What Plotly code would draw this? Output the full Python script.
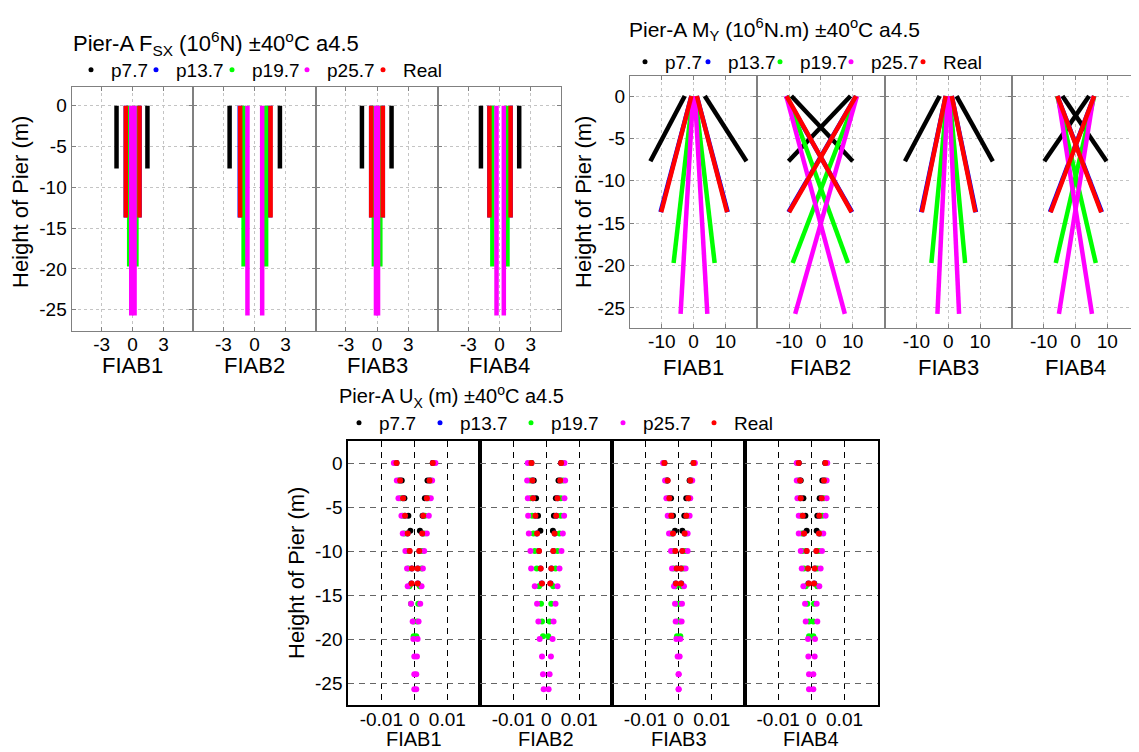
import plotly.graph_objects as go

# ---------------- data ----------------
SERIES = ["p7.7", "p13.7", "p19.7", "p25.7", "Real"]
COLORS = ["#000000", "#0000ff", "#00ff00", "#ff00ff", "#ff0000"]
DEPTH = [7.7, 13.7, 19.7, 25.7, 13.7]
PANELS = ["FIAB1", "FIAB2", "FIAB3", "FIAB4"]

# Fsx (10^6 N): per panel (negative case, positive case), constant along height
FSX_P77 = [(-1.55, 1.45), (-2.40, 2.45), (-1.45, 1.40), (-1.80, 1.88)]
FSX_P137 = [(-0.65, 0.68), (-1.42, 1.50), (-0.56, 0.56), (-0.98, 1.05)]
FSX_P197 = [(-0.32, 0.38), (-1.05, 1.12), (-0.30, 0.32), (-0.70, 0.75)]
FSX_P257 = [(-0.12, 0.20), (-0.68, 0.74), (-0.10, 0.10), (-0.30, 0.40)]
FSX_REAL = [(-0.65, 0.68), (-1.38, 1.55), (-0.56, 0.56), (-0.98, 1.05)]

# My (10^6 N.m): per panel two cases, each (value at top, value at pier bottom)
MY_P77 = [((-2.8, -13.6), (3.5, 16.6)), ((-9.3, 10.0), (9.3, -10.2)),
          ((-2.7, -13.6), (2.6, 14.0)), ((-4.1, 9.8), (4.3, -9.8))]
MY_P137 = [((-0.7, -10.4), (1.0, 10.7)), ((-11.0, 9.8), (11.0, -10.2)),
           ((-0.8, -8.5), (1.1, 8.7)), ((-5.7, 8.3), (5.9, -8.0))]
MY_P197 = [((-0.3, -6.3), (0.5, 6.6)), ((-10.6, 8.5), (11.2, -8.9)),
           ((-0.3, -5.3), (0.4, 5.3)), ((-5.7, 6.4), (5.9, -6.2))]
MY_P257 = [((-0.2, -4.1), (0.4, 4.3)), ((-10.9, 7.5), (11.3, -8.1)),
           ((-0.2, -3.4), (0.3, 3.4)), ((-5.5, 5.2), (5.7, -5.2))]
MY_REAL = [((-0.7, -10.2), (1.0, 10.5)), ((-10.8, 9.6), (11.0, -10.0)),
           ((-0.8, -8.3), (1.1, 8.5)), ((-5.7, 8.1), (5.9, -7.8))]

# Ux (m): node heights of each pier model
UX_H_P77 = [0, -2, -4, -6, -7.7]
UX_H_P137 = [0, -2, -4, -6, -8, -10, -12, -13.7]
UX_H_P197 = [0, -2, -4, -6, -8, -10, -12, -14, -16, -18, -19.7]
UX_H_P257 = [0, -2, -4, -6, -8, -10, -12, -14, -16, -18, -20, -22, -24, -25.7]
UX_H_REAL = [0, -2, -4, -6, -8, -10, -12, -13.7]

UX_P77_NEG = [[-0.0054, -0.0038, -0.0030, -0.0018, -0.0012],
              [-0.0045, -0.0038, -0.0031, -0.0025, -0.0018],
              [-0.0043, -0.0035, -0.0023, -0.0017, -0.0011],
              [-0.0038, -0.0032, -0.0024, -0.0018, -0.0014]]
UX_P77_POS = [[0.0056, 0.0040, 0.0032, 0.0025, 0.0017],
              [0.0045, 0.0037, 0.0029, 0.0023, 0.0020],
              [0.0045, 0.0033, 0.0023, 0.0017, 0.0011],
              [0.0042, 0.0033, 0.0025, 0.0018, 0.0016]]

UX_P137_NEG = [[-0.0055, -0.0044, -0.0035, -0.0029, -0.0021, -0.0015, -0.0008, -0.0009],
               [-0.0046, -0.0043, -0.0041, -0.0034, -0.0029, -0.0023, -0.0018, -0.0014],
               [-0.0044, -0.0034, -0.0029, -0.0023, -0.0018, -0.0011, -0.0007, -0.0009],
               [-0.0039, -0.0035, -0.0033, -0.0027, -0.0023, -0.0015, -0.0011, -0.0009]]
UX_P137_POS = [[0.0057, 0.0047, 0.0039, 0.0028, 0.0025, 0.0016, 0.0011, 0.0011],
               [0.0046, 0.0043, 0.0035, 0.0031, 0.0026, 0.0022, 0.0016, 0.0013],
               [0.0046, 0.0036, 0.0030, 0.0024, 0.0019, 0.0012, 0.0008, 0.0008],
               [0.0043, 0.0039, 0.0032, 0.0025, 0.0024, 0.0016, 0.0011, 0.0009]]

UX_P197_NEG = [[-0.0058, -0.0048, -0.0042, -0.0035, -0.0030, -0.0023, -0.0018, -0.0015, -0.0010, -0.0002, -0.0002],
               [-0.0050, -0.0050, -0.0048, -0.0043, -0.0039, -0.0035, -0.0029, -0.0022, -0.0016, -0.0013, -0.0010],
               [-0.0045, -0.0037, -0.0032, -0.0027, -0.0024, -0.0019, -0.0015, -0.0009, -0.0006, -0.0003, -0.0005],
               [-0.0042, -0.0040, -0.0036, -0.0032, -0.0029, -0.0027, -0.0022, -0.0017, -0.0012, -0.0007, -0.0007]]
UX_P197_POS = [[0.0060, 0.0050, 0.0044, 0.0032, 0.0030, 0.0025, 0.0022, 0.0017, 0.0012, 0.0008, 0.0006],
               [0.0050, 0.0050, 0.0044, 0.0044, 0.0040, 0.0034, 0.0028, 0.0021, 0.0015, 0.0010, 0.0006],
               [0.0047, 0.0038, 0.0032, 0.0027, 0.0022, 0.0020, 0.0015, 0.0010, 0.0003, 0.0003, 0.0005],
               [0.0045, 0.0042, 0.0038, 0.0033, 0.0028, 0.0023, 0.0018, 0.0018, 0.0008, 0.0006, 0.0006]]

UX_P257_NEG = [[-0.0062, -0.0053, -0.0048, -0.0039, -0.0035, -0.0027, -0.0022, -0.0020, -0.0010, -0.0005, -0.0003, 0.0000, 0.0000, 0.0000],
               [-0.0056, -0.0058, -0.0056, -0.0055, -0.0053, -0.0048, -0.0046, -0.0035, -0.0028, -0.0024, -0.0020, -0.0013, -0.0010, -0.0008],
               [-0.0047, -0.0041, -0.0037, -0.0033, -0.0029, -0.0023, -0.0020, -0.0014, -0.0011, -0.0009, -0.0007, -0.0003, 0.0000, 0.0000],
               [-0.0044, -0.0044, -0.0042, -0.0038, -0.0038, -0.0032, -0.0029, -0.0024, -0.0019, -0.0017, -0.0010, -0.0009, -0.0007, -0.0007]]
UX_P257_POS = [[0.0064, 0.0054, 0.0050, 0.0044, 0.0038, 0.0030, 0.0026, 0.0022, 0.0018, 0.0013, 0.0010, 0.0008, 0.0006, 0.0006],
               [0.0055, 0.0057, 0.0055, 0.0054, 0.0050, 0.0046, 0.0040, 0.0034, 0.0028, 0.0022, 0.0019, 0.0014, 0.0010, 0.0007],
               [0.0049, 0.0041, 0.0035, 0.0033, 0.0027, 0.0027, 0.0021, 0.0016, 0.0010, 0.0009, 0.0005, 0.0003, 0.0000, 0.0000],
               [0.0048, 0.0046, 0.0046, 0.0043, 0.0036, 0.0032, 0.0028, 0.0024, 0.0016, 0.0018, 0.0011, 0.0010, 0.0006, 0.0006]]

UX_REAL_NEG = [[-0.0054, -0.0043, -0.0034, -0.0028, -0.0020, -0.0014, -0.0007, -0.0008],
               [-0.0045, -0.0042, -0.0040, -0.0033, -0.0028, -0.0022, -0.0017, -0.0013],
               [-0.0043, -0.0033, -0.0028, -0.0022, -0.0017, -0.0010, -0.0006, -0.0008],
               [-0.0038, -0.0034, -0.0032, -0.0026, -0.0022, -0.0014, -0.0010, -0.0008]]
UX_REAL_POS = [[0.0056, 0.0046, 0.0038, 0.0027, 0.0024, 0.0015, 0.0010, 0.0010],
               [0.0045, 0.0042, 0.0034, 0.0030, 0.0025, 0.0021, 0.0015, 0.0012],
               [0.0045, 0.0035, 0.0029, 0.0023, 0.0018, 0.0011, 0.0007, 0.0007],
               [0.0042, 0.0038, 0.0031, 0.0024, 0.0023, 0.0015, 0.0010, 0.0008]]

Y_TICKS = [0, -5, -10, -15, -20, -25]
Y_TICKTEXT = ["0", "-5", "-10", "-15", "-20", "-25"]

TITLES = ["Pier-A F<sub>SX</sub> (10<sup>6</sup>N) ±40<sup>o</sup>C a4.5",
          "Pier-A M<sub>Y</sub> (10<sup>6</sup>N.m) ±40<sup>o</sup>C a4.5",
          "Pier-A U<sub>X</sub> (m) ±40<sup>o</sup>C a4.5"]
YLABEL = "Height of Pier (m)"

# ---------------- layout config ----------------
# the page body has an 8 px margin, so the figure is drawn 8 px smaller and
# reference pixel positions are shifted by that offset
OFF = 8
W, H = 1139 - OFF, 752 - OFF
FONT = "Liberation Sans, Arial, sans-serif"


def fx(p):
    return min(max((p - OFF) / W, 0.0), 1.0)


def fy(p):
    return min(max(1 - (p - OFF) / H, 0.0), 1.0)


GROUPS = [
    dict(edges=[71.7, 193.3, 315.7, 438.3, 561.0], top=87, bottom=331,
         xrange=[-5.9, 5.9], yrange=[-27.6, 2.3], xt=[-3, 0, 3], xtt=["-3", "0", "3"],
         style="matlab", title=(71, 44), legend=(71, 70), ylab=(20, 202),
         flab=(365, "middle"), lw=[20, 31, 30, 31, None], tfs=22, fls=22, xstand=-4),
    dict(edges=[630.0, 757.3, 884.6, 1011.9, 1139.0], top=75.7, bottom=328.3,
         xrange=[-20, 20], yrange=[-27.4, 2.4], xt=[-10, 0, 10], xtt=["-10", "0", "10"],
         style="matlab", title=(627, 30), legend=(625, 62), ylab=(583, 202),
         flab=(367, "middle"), lw=[18, 27, 26, 27, None], tfs=21, fls=22, xstand=-4),
    dict(edges=[348.3, 480.3, 612.3, 745.0, 877.7], top=441, bottom=705,
         xrange=[-0.02, 0.02], yrange=[-27.5, 2.5], xt=[-0.01, 0, 0.01], xtt=["-0.01", "0", "0.01"],
         style="box", title=(337, 396), legend=(339, 423), ylab=(296, 573),
         flab=(752, "bottom"), lw=[36, 46, 47, 46, None], tfs=20, fls=20, xstand=-4),
]
LEGEND_KEYS = ["legend", "legend2", "legend3"]

fig = go.Figure()
layout = dict(width=W, height=H, margin=dict(l=0, r=0, t=0, b=0),
              paper_bgcolor="white", plot_bgcolor="white",
              font=dict(family=FONT, color="black", size=19),
              showlegend=True)
annotations = []

for g, G in enumerate(GROUPS):
    for p in range(4):
        k = g * 4 + p + 1
        xk = "xaxis" if k == 1 else f"xaxis{k}"
        yk = "yaxis" if k == 1 else f"yaxis{k}"
        xid = "x" if k == 1 else f"x{k}"
        yid = "y" if k == 1 else f"y{k}"
        x0, x1 = G["edges"][p], G["edges"][p + 1]
        if G["style"] == "matlab":
            common = dict(showline=True, linecolor="#808080", linewidth=1.3, mirror="ticks",
                          ticks="inside", ticklen=4, tickcolor="#808080", showgrid=True,
                          gridcolor="#c4c4c4", griddash="dot", gridwidth=1, zeroline=False,
                          tickfont=dict(size=19, color="black", family=FONT), automargin=False)
            xgrid = ygrid = "#c4c4c4"
        else:
            common = dict(showline=True, linecolor="black", linewidth=2, mirror=True,
                          ticks="", showgrid=True, griddash="6px,5px", gridwidth=1,
                          zeroline=False, tickfont=dict(size=19, color="black", family=FONT),
                          automargin=False)
            xgrid, ygrid = "#000000", "#666666"
        layout[xk] = dict(common, domain=[fx(x0), fx(x1)], range=G["xrange"],
                          tickvals=G["xt"], ticktext=G["xtt"], anchor=yid, gridcolor=xgrid,
                          ticklabelstandoff=G["xstand"])
        layout[yk] = dict(common, domain=[fy(G["bottom"]), fy(G["top"])], range=G["yrange"],
                          tickvals=Y_TICKS, ticktext=Y_TICKTEXT, anchor=xid, gridcolor=ygrid,
                          showticklabels=(p == 0))
        fpy, fanchor = G["flab"]
        annotations.append(dict(text=PANELS[p], x=fx((x0 + x1) / 2), y=fy(fpy),
                                xref="paper", yref="paper", showarrow=False,
                                xanchor="center", yanchor=fanchor,
                                font=dict(size=G["fls"], family=FONT, color="black")))

        if g == 0:
            data = [FSX_P77, FSX_P137, FSX_P197, FSX_P257, FSX_REAL]
            for s in range(5):
                neg, pos = data[s][p]
                d = DEPTH[s]
                fig.add_trace(go.Scatter(x=[neg, neg, None, pos, pos], y=[0, -d, None, 0, -d],
                                         mode="lines", line=dict(color=COLORS[s], width=4.5),
                                         showlegend=False, xaxis=xid, yaxis=yid,
                                         hoverinfo="skip"))
        elif g == 1:
            data = [MY_P77, MY_P137, MY_P197, MY_P257, MY_REAL]
            for s in range(5):
                (a0, a1), (b0, b1) = data[s][p]
                d = DEPTH[s]
                fig.add_trace(go.Scatter(x=[a0, a1, None, b0, b1], y=[0, -d, None, 0, -d],
                                         mode="lines", line=dict(color=COLORS[s], width=4.5),
                                         showlegend=False, xaxis=xid, yaxis=yid,
                                         hoverinfo="skip"))
        else:
            negs = [UX_P77_NEG, UX_P137_NEG, UX_P197_NEG, UX_P257_NEG, UX_REAL_NEG]
            poss = [UX_P77_POS, UX_P137_POS, UX_P197_POS, UX_P257_POS, UX_REAL_POS]
            hs = [UX_H_P77, UX_H_P137, UX_H_P197, UX_H_P257, UX_H_REAL]
            for s in range(5):
                fig.add_trace(go.Scatter(x=negs[s][p] + poss[s][p], y=hs[s] + hs[s],
                                         mode="markers",
                                         marker=dict(color=COLORS[s], size=6, line=dict(width=0)),
                                         showlegend=False, xaxis=xid, yaxis=yid,
                                         hoverinfo="skip"))

    # legend entries (dots)
    first_x = "x" if g == 0 else f"x{g * 4 + 1}"
    first_y = "y" if g == 0 else f"y{g * 4 + 1}"
    for s in range(5):
        tr = dict(x=[None], y=[None], mode="markers", name=SERIES[s],
                  marker=dict(color=COLORS[s], size=5),
                  legend=LEGEND_KEYS[g], xaxis=first_x, yaxis=first_y, showlegend=True)
        if G["lw"][s] is not None:
            tr["legendwidth"] = G["lw"][s]
        fig.add_trace(go.Scatter(**tr))
    lx, ly = G["legend"]
    layout[LEGEND_KEYS[g]] = dict(orientation="h", x=fx(lx), y=fy(ly), xanchor="left",
                                  yanchor="middle", xref="paper", yref="paper",
                                  bgcolor="rgba(0,0,0,0)", borderwidth=0, itemwidth=30,
                                  font=dict(size=19, family=FONT, color="black"),
                                  itemclick=False, itemdoubleclick=False)

    tx, ty = G["title"]
    annotations.append(dict(text=TITLES[g], x=fx(tx), y=fy(ty), xref="paper", yref="paper",
                            showarrow=False, xanchor="left", yanchor="middle",
                            font=dict(size=G["tfs"], family=FONT, color="black")))
    yx, yy = G["ylab"]
    annotations.append(dict(text=YLABEL, x=fx(yx), y=fy(yy), xref="paper", yref="paper",
                            showarrow=False, xanchor="center", yanchor="middle", textangle=-90,
                            font=dict(size=22, family=FONT, color="black")))

layout["annotations"] = annotations
fig.update_layout(**layout)
fig.write_html("out.html")
